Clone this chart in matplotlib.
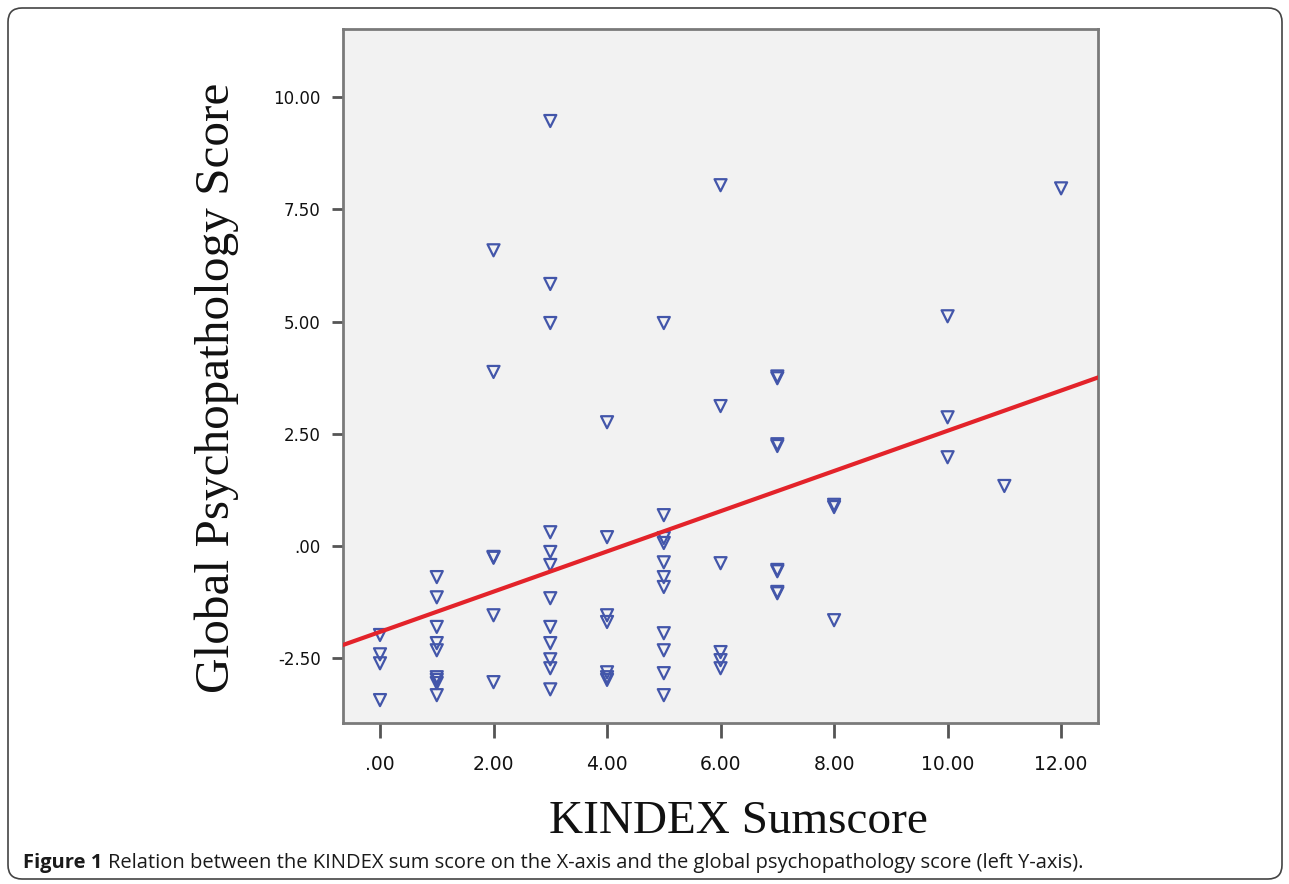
import numpy as np
import matplotlib
matplotlib.use("Agg")
import matplotlib.pyplot as plt
from matplotlib.patches import FancyBboxPatch
from matplotlib.transforms import IdentityTransform

# KINDEX sum score (x) and global psychopathology score (y)
kindex = [0, 0, 0, 0,
          1, 1, 1, 1, 1, 1, 1, 1, 1,
          2, 2, 2, 2, 2, 2,
          3, 3, 3, 3, 3, 3, 3, 3, 3, 3, 3, 3,
          4, 4, 4, 4, 4, 4, 4,
          5, 5, 5, 5, 5, 5, 5, 5, 5, 5, 5,
          6, 6, 6, 6, 6, 6,
          7, 7, 7, 7, 7, 7, 7, 7,
          8, 8, 8,
          10, 10, 10,
          11,
          12]
gps = [-1.98, -2.41, -2.61, -3.43,
       -0.69, -1.14, -1.80, -2.16, -2.32, -2.92, -2.98, -3.05, -3.32,
       6.59, 3.88, -0.24, -0.26, -1.54, -3.03,
       9.47, 5.84, 4.97, 0.31, -0.13, -0.42, -1.16, -1.80, -2.16, -2.52, -2.72, -3.19,
       2.76, 0.20, -1.54, -1.69, -2.81, -2.92, -2.98,
       4.97, 0.69, 0.18, 0.07, -0.36, -0.69, -0.91, -1.94, -2.32, -2.83, -3.32,
       8.04, 3.12, -0.38, -2.36, -2.54, -2.72,
       3.78, 3.74, 2.27, 2.23, -0.53, -0.56, -1.02, -1.05,
       0.92, 0.87, -1.65,
       5.12, 2.87, 1.98,
       1.34,
       7.97]

# fitted regression line as drawn
fit_intercept = -1.91
fit_slope = 0.448

xticks = [0, 2, 4, 6, 8, 10, 12]
xticklabels = [".00", "2.00", "4.00", "6.00", "8.00", "10.00", "12.00"]
yticks = [-2.5, 0, 2.5, 5, 7.5, 10]
yticklabels = ["-2.50", ".00", "2.50", "5.00", "7.50", "10.00"]

W, H = 1289, 884
fig = plt.figure(figsize=(W / 100, H / 100), dpi=100)
fig.patch.set_facecolor("white")

ax = fig.add_axes([343 / W, 1 - 723 / H, 755 / W, 694 / H])
ax.set_facecolor("#f2f2f2")
ax.set_xlim(-0.652, 12.65)
ax.set_ylim(-3.94, 11.52)

ax.scatter(kindex, gps, marker="v", s=75, facecolors="none",
           edgecolors="#4356aa", linewidths=1.6, zorder=3)

xl = np.array(ax.get_xlim())
ax.plot(xl, fit_intercept + fit_slope * xl, color="#e3232a", lw=3, zorder=4)

for s in ax.spines.values():
    s.set_color("#7a7a7a")
    s.set_linewidth(2)

ax.set_xticks(xticks)
ax.set_xticklabels(xticklabels, fontsize=13.5, family="DejaVu Sans")
ax.set_yticks(yticks)
ax.set_yticklabels(yticklabels, fontsize=12, family="DejaVu Sans")
ax.tick_params(axis="x", length=11, width=2, color="#555555", pad=12, labelcolor="#111111")
ax.tick_params(axis="y", length=8, width=2, color="#555555", pad=8, labelcolor="#111111")

fig.text(217 / W, 1 - 388 / H, "Global Psychopathology Score", rotation=90,
         ha="center", va="center", fontsize=35.5, family="Liberation Serif", color="#111111")
fig.text(738 / W, 1 - 822 / H, "KINDEX Sumscore", ha="center", va="center",
         fontsize=34, family="Liberation Serif", color="#111111")

# caption
cap1 = fig.text(23 / W, 1 - 868 / H, "Figure 1", ha="left", va="baseline",
                fontsize=14.5, family="Open Sans", weight="bold", color="#1a1a1a")
r = fig.canvas.get_renderer()
bb = cap1.get_window_extent(renderer=r)
fig.text((bb.x1 + 6) / W, 1 - 868 / H,
         "Relation between the KINDEX sum score on the X-axis and the global psychopathology score (left Y-axis).",
         ha="left", va="baseline", fontsize=14.5, family="Open Sans", color="#1a1a1a")

# rounded frame around the figure
frame = FancyBboxPatch((8, 5), W - 15, H - 13, boxstyle="round,pad=0,rounding_size=14",
                       transform=IdentityTransform(), fill=False, edgecolor="#444444", lw=1.2)
fig.patches.append(frame)

fig.savefig("out.png", dpi=100)
